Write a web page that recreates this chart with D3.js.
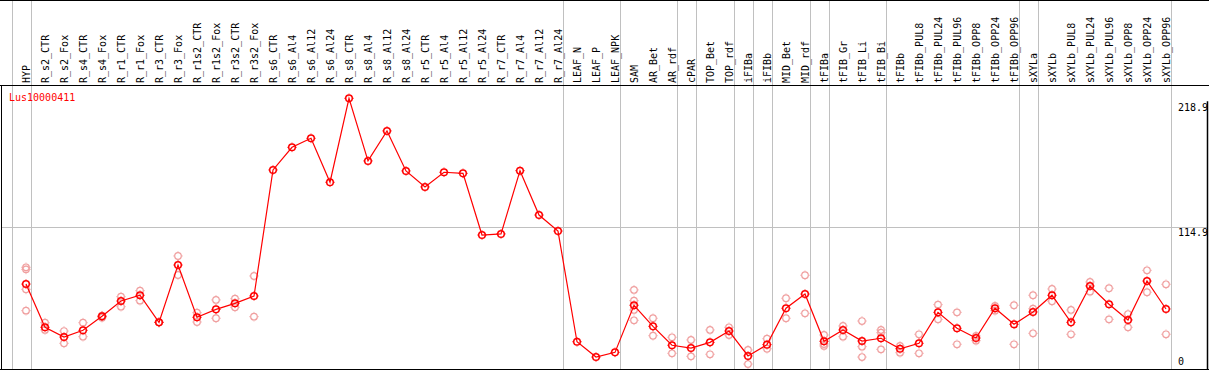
<!DOCTYPE html>
<html>
<head>
<meta charset="utf-8">
<script src="https://cdn.jsdelivr.net/npm/d3@7"></script>
<style>
  body { margin: 0; background: #fff; }
  text { font-family: "DejaVu Sans Mono", monospace; font-size: 10px; }
</style>
</head>
<body>
<div id="wrapper"></div>
<script>
const geneName = 'Lus10000411';

const samples = ['HYP', 'R_s2_CTR', 'R_s2_Fox', 'R_s4_CTR', 'R_s4_Fox', 'R_r1_CTR', 'R_r1_Fox', 'R_r3_CTR', 'R_r3_Fox',
    'R_r1s2_CTR', 'R_r1s2_Fox', 'R_r3s2_CTR', 'R_r3s2_Fox', 'R_s6_CTR', 'R_s6_Al4', 'R_s6_Al12', 'R_s6_Al24',
    'R_s8_CTR', 'R_s8_Al4', 'R_s8_Al12', 'R_s8_Al24', 'R_r5_CTR', 'R_r5_Al4', 'R_r5_Al12', 'R_r5_Al24',
    'R_r7_CTR', 'R_r7_Al4', 'R_r7_Al12', 'R_r7_Al24', 'LEAF_N', 'LEAF_P', 'LEAF_NPK', 'SAM', 'AR_Bet', 'AR_rdf',
    'cPAR', 'TOP_Bet', 'TOP_rdf', 'iFIBa', 'iFIBb', 'MID_Bet', 'MID_rdf', 'tFIBa', 'tFIB_Gr', 'tFIB_Li', 'tFIB_Bi',
    'tFIBb', 'tFIBb_PUL8', 'tFIBb_PUL24', 'tFIBb_PUL96', 'tFIBb_OPP8', 'tFIBb_OPP24', 'tFIBb_OPP96',
    'sXYLa', 'sXYLb', 'sXYLb_PUL8', 'sXYLb_PUL24', 'sXYLb_PUL96', 'sXYLb_OPP8', 'sXYLb_OPP24', 'sXYLb_OPP96'];

// mean expression per sample
const means = [67.2, 31.3, 23.2, 28.8, 40.4, 53.1, 57.9, 35.4, 83.0,
    39.6, 46.2, 51.2, 57.3, 161.9, 180.7, 188.2, 151.7,
    221.4, 169.4, 194.3, 161.1, 147.8, 160.0, 159.1, 107.9,
    108.8, 161.3, 124.5, 111.2, 19.3, 6.6, 10.5, 49.6, 32.1, 16.4,
    14.1, 18.8, 28.2, 7.5, 16.9, 47.1, 58.9, 19.7, 29.1, 19.9, 22.2,
    13.5, 18.0, 43.7, 30.5, 22.4, 47.1, 33.8,
    44.0, 57.9, 35.4, 65.6, 50.4, 37.4, 69.7, 46.5];

// replicate values per sample
const replicates = [[81.1, 79.4, 62.8, 45.1], [35.1, 29.1], [28.2, 18.0], [35.1, 23.5], [40.9, 39.3], [56.7, 48.4],
    [61.7, 53.4], [35.4, 35.4], [90.5, 74.7], [43.4, 35.7], [54.0, 38.8], [55.0, 47.9], [73.9, 40.1],
    [], [], [], [], [], [], [], [], [], [], [], [], [], [], [], [],
    [], [], [], [62.3, 53.4, 45.7, 37.1], [38.8, 24.3], [23.0, 9.7],
    [20.8, 7.2], [29.1, 8.9], [31.3, 24.9], [12.5, 0.8], [21.8, 13.5], [55.4, 38.8], [74.5, 42.9],
    [24.9, 17.4, 15.8], [32.4, 23.5], [36.5, 15.2, 6.6], [29.1, 26.8, 13.0],
    [15.8, 10.2], [25.5, 9.7], [50.1, 37.9], [43.7, 17.2], [24.1, 20.2], [49.0, 45.1], [49.6, 17.2],
    [57.9, 46.7, 26.3], [63.1, 52.9], [45.7, 25.5], [68.9, 60.9], [63.7, 37.9], [42.3, 31.3], [78.6, 60.4], [67.0, 25.5]];

// samples after which a group separator is drawn
const groupEnds = ['HYP', 'R_r7_Al24', 'LEAF_NPK', 'AR_rdf', 'cPAR', 'TOP_rdf', 'iFIBa', 'iFIBb', 'MID_rdf',
    'tFIBa', 'tFIB_Bi', 'tFIBb_OPP96', 'sXYLa', 'sXYLb_OPP96'];

const yTicks = [0, 114.9, 218.9];

//dimensions
let dimensions = {
    width: 1209,
    height: 370,
    headerH: 85,
    bottom: 365,
    top: 101.3
};

const svg = d3.select('#wrapper').append('svg')
    .attr('width', dimensions.width)
    .attr('height', dimensions.height);

//scales
let xScale = d3.scalePoint()
    .domain(samples)
    .range([26, 1166]);

let yScale = d3.scaleLinear()
    .domain([0, 218.9])
    .range([dimensions.bottom, dimensions.top]);

const step = xScale.step();

//vertical group lines
let sepX = [xScale('HYP') - step + 4.5].concat(groupEnds.map(d => xScale(d) + 4.5));
svg.append('g')
    .selectAll('line')
    .data(sepX)
    .join('line')
    .attr('x1', d => Math.round(d) + 0.5)
    .attr('x2', d => Math.round(d) + 0.5)
    .attr('y1', 0)
    .attr('y2', 369)
    .attr('stroke', '#c0c0c0')
    .attr('stroke-width', 1);

//horizontal grid (middle tick only)
svg.append('line')
    .attr('x1', 1)
    .attr('x2', 1207)
    .attr('y1', Math.round(yScale(114.9)) + 0.5)
    .attr('y2', Math.round(yScale(114.9)) + 0.5)
    .attr('stroke', '#c0c0c0');

//frame
svg.append('line').attr('x1', 0).attr('x2', 1209).attr('y1', 0.5).attr('y2', 0.5).attr('stroke', '#000');
svg.append('line').attr('x1', 0).attr('x2', 1209).attr('y1', 85.5).attr('y2', 85.5).attr('stroke', '#000');
svg.append('line').attr('x1', 0).attr('x2', 1209).attr('y1', 369.5).attr('y2', 369.5).attr('stroke', '#000');
svg.append('line').attr('x1', 1.5).attr('x2', 1.5).attr('y1', 85).attr('y2', 370).attr('stroke', '#000');
svg.append('line').attr('x1', 1207.5).attr('x2', 1207.5).attr('y1', yScale(218.9)).attr('y2', 370)
    .attr('stroke', '#000').attr('stroke-width', 1.5);

//sample labels (rotated)
svg.append('g')
    .selectAll('text')
    .data(samples)
    .join('text')
    .attr('transform', d => `translate(${xScale(d) + 3.5},83) rotate(-90)`)
    .attr('fill', '#000')
    .text(d => d);

//gene name
svg.append('text')
    .attr('x', 9)
    .attr('y', 100.5)
    .attr('fill', '#ff0000')
    .text(geneName);

//y tick labels
svg.append('g')
    .selectAll('text')
    .data(yTicks)
    .join('text')
    .attr('x', 1178)
    .attr('y', d => Math.min(yScale(d) + 9.6, 365))
    .attr('fill', '#000')
    .text(d => d);

//marker: circle with four small ticks
function drawMarker(g, color, width) {
    g.append('circle')
        .attr('r', 3.3)
        .attr('fill', 'none')
        .attr('stroke', color)
        .attr('stroke-width', width);
    g.append('path')
        .attr('d', 'M0,-3.8V-4.8M0,3.8V4.8M-3.8,0H-4.8M3.8,0H4.8')
        .attr('stroke', color)
        .attr('stroke-width', 0.8);
}

//replicates
let repData = [];
samples.forEach((s, i) => replicates[i].forEach(v => repData.push({ s: s, v: v })));

svg.append('g')
    .selectAll('g')
    .data(repData)
    .join('g')
    .attr('transform', d => `translate(${xScale(d.s)},${yScale(d.v)})`)
    .each(function () { drawMarker(d3.select(this), '#f0a0a0', 1.2); });

//mean line
let lineGenerator = d3.line()
    .x((d, i) => xScale(samples[i]))
    .y(d => yScale(d));

svg.append('path')
    .attr('d', lineGenerator(means))
    .attr('fill', 'none')
    .attr('stroke', '#ff0000')
    .attr('stroke-width', 1.2);

//means
svg.append('g')
    .selectAll('g')
    .data(means)
    .join('g')
    .attr('transform', (d, i) => `translate(${xScale(samples[i])},${yScale(d)})`)
    .each(function () { drawMarker(d3.select(this), '#ff0000', 1.5); });
</script>
</body>
</html>
